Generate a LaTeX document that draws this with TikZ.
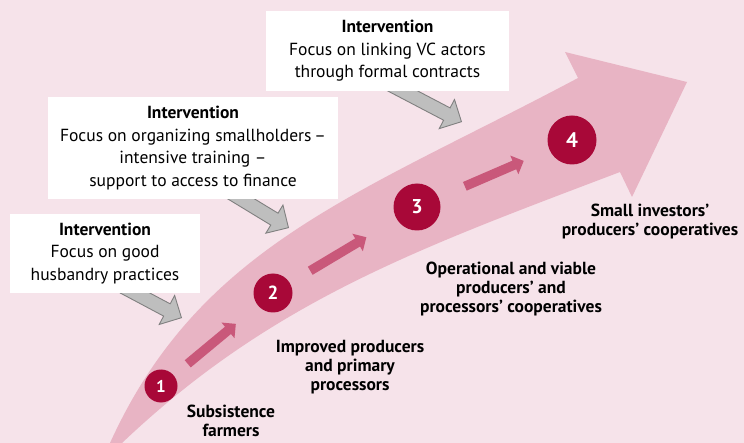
\documentclass[tikz,border=0pt]{standalone}
\usepackage{fontspec}
\setmainfont{PT Sans}
\usetikzlibrary{shapes.arrows, calc}
\definecolor{bgpink}{RGB}{246,227,234}
\definecolor{bandpink}{RGB}{232,180,196}
\definecolor{steppink}{RGB}{201,88,122}
\definecolor{crimson}{RGB}{168,8,56}
\definecolor{arrowgray}{RGB}{190,190,190}
\definecolor{edgegray}{RGB}{128,128,128}
\tikzset{
  stage/.style={circle, fill=crimson, text=white, inner sep=0pt},
  intbox/.style={fill=white, align=center, inner sep=0pt, font=\fontsize{17.5}{22.5}\selectfont},
  level/.style={align=center, font=\fontsize{17.5}{19}\selectfont\bfseries},
  grayarrow/.style={single arrow, draw=edgegray, fill=arrowgray, line width=0.9pt,
    inner xsep=0pt, inner ysep=6.5pt, single arrow head extend=9.5pt},
  steparrow/.style={single arrow, fill=steppink,
    inner xsep=0pt, inner ysep=4.5pt, single arrow head extend=5.5pt}
}
\newcommand{\blockarrow}[3][]{%
  \path let \p1=($(#3)-(#2)$), \n1={atan2(\y1,\x1)}, \n2={veclen(\x1,\y1)} in
    node[#1, rotate=\n1, minimum height=\n2, anchor=tip] at (#3) {};}

\begin{document}
\begin{tikzpicture}[x=1pt, y=-1pt]
  \useasboundingbox (0,0) rectangle (744,443);
  \fill[bgpink] (0,0) rectangle (744,443);
  % the big curved arrow
  \fill[bandpink] (110,443) .. controls (200,245) and (358,195) .. (578,78)
    -- (565,52) -- (687,82) -- (632,197) -- (620,172)
    .. controls (420,248) and (272,300.5) .. (122,443) -- cycle;

  % gray arrows from the interventions
  \coordinate (f1) at (120,285);
  \coordinate (g1) at (182,318);
  \coordinate (f2) at (215,183);
  \coordinate (g2) at (289,228);
  \coordinate (f3) at (378,78);
  \coordinate (g3) at (462,122);
  \blockarrow[grayarrow]{f1}{g1}
  \blockarrow[grayarrow]{f2}{g2}
  \blockarrow[grayarrow]{f3}{g3}

  \node[intbox, minimum width=190, minimum height=79] (b1) at (105,253.5)
    {\textbf{Intervention}\\Focus on good\\husbandry practices};
  \node[intbox, minimum width=290, minimum height=102] (b2) at (193,148)
    {\textbf{Intervention}\\Focus on organizing smallholders\,--\\intensive training --\\support to access to finance};
  \node[intbox, minimum width=243, minimum height=80] (b3) at (387.5,51)
    {\textbf{Intervention}\\Focus on linking VC actors\\through formal contracts};

  % stages
  \node[stage, minimum size=33, font=\fontsize{17}{17}\selectfont\bfseries] (c1) at (161,386) {1};
  \node[stage, minimum size=39, font=\fontsize{19}{19}\selectfont\bfseries] (c2) at (273,293) {2};
  \node[stage, minimum size=47, font=\fontsize{20}{20}\selectfont\bfseries] (c3) at (417,207) {3};
  \node[stage, minimum size=49, font=\fontsize{21}{21}\selectfont\bfseries] (c4) at (572,140) {4};

  \coordinate (s1) at ($(c1)!0.24!(c2)$);
  \coordinate (t1) at ($(c1)!0.67!(c2)$);
  \coordinate (s2) at ($(c2)!0.26!(c3)$);
  \coordinate (t2) at ($(c2)!0.65!(c3)$);
  \coordinate (s3) at ($(c3)!0.31!(c4)$);
  \coordinate (t3) at ($(c3)!0.69!(c4)$);
  \blockarrow[steparrow]{s1}{t1}
  \blockarrow[steparrow]{s2}{t2}
  \blockarrow[steparrow]{s3}{t3}

  % levels
  \node[level] (l1) at (231,421) {Subsistence\\farmers};
  \node[level] (l2) at (350,367) {Improved producers\\and primary\\processors};
  \node[level] (l3) at (511,289) {Operational and viable\\producers' and\\processors' cooperatives};
  \node[level] (l4) at (650,222) {Small investors'\\producers' cooperatives};
\end{tikzpicture}
\end{document}
